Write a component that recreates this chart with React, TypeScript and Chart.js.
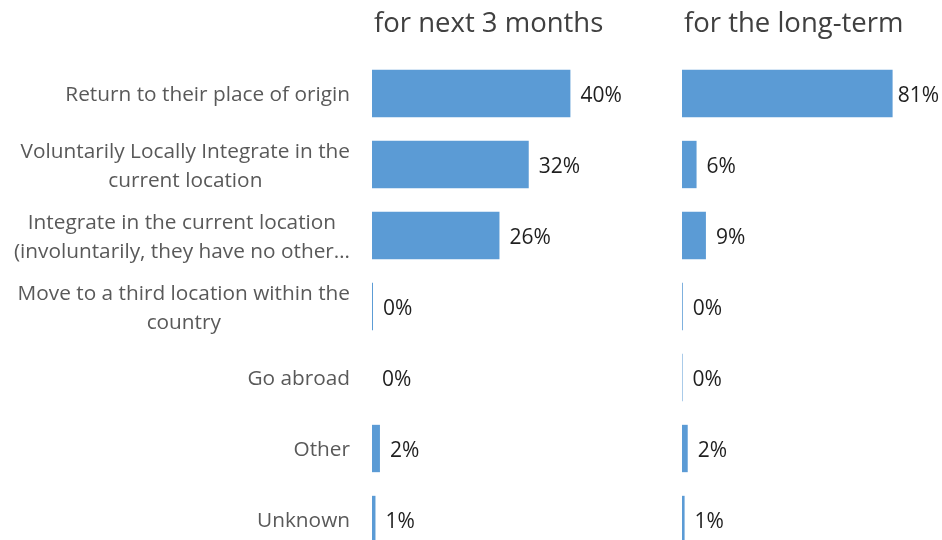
import React, { useEffect, useRef } from "react";
import { Chart, registerables } from "chart.js";

Chart.register(...registerables);

const categories: string[][] = [
  ["Return to their place of origin"],
  ["Voluntarily Locally Integrate in the", "current location"],
  ["Integrate in the current location", "(involuntarily, they have no other…"],
  ["Move to a third location within the", "country"],
  ["Go abroad"],
  ["Other"],
  ["Unknown"],
];

const next3Months = [40, 31.6, 25.7, 0.2, 0, 1.6, 0.7];
const longTerm = [81, 5.6, 9.2, 0.3, 0.2, 2.2, 1.0];
const titles = ["for next 3 months", "for the long-term"];
const axisMax = [50, 100];

const BAR = "#5B9BD5";
const FONT = "'Open Sans', 'Noto Sans', sans-serif";

const makePlugin = (title: string, withCats: boolean) => ({
  id: "custom-" + title,
  afterDatasetsDraw(chart: any) {
    const ctx = chart.ctx as CanvasRenderingContext2D;
    const area = chart.chartArea;
    ctx.save();
    // title
    ctx.font = `27.5px ${FONT}`;
    ctx.fillStyle = "#404040";
    ctx.textAlign = "left";
    ctx.textBaseline = "middle";
    ctx.fillText(title, area.left + 2, 24);
    // data labels
    const meta = chart.getDatasetMeta(0);
    const data = chart.data.datasets[0].data as number[];
    ctx.font = `21px ${FONT}`;
    ctx.fillStyle = "#1f1f1f";
    meta.data.forEach((bar: any, i: number) => {
      const txt = Math.round(data[i]) + "%";
      const w = ctx.measureText(txt).width;
      let x = bar.x + 10;
      if (x + w > chart.width - 3) x = chart.width - 3 - w;
      ctx.fillText(txt, x, bar.y + 3);
    });
    // category labels
    if (withCats) {
      const y = chart.scales.y;
      ctx.font = `20.8px ${FONT}`;
      ctx.fillStyle = "#595959";
      ctx.textAlign = "center";
      const lh = 28.5;
      const right = 350;
      categories.forEach((lines, i) => {
        const cy = y.getPixelForValue(i) + 2;
        const bw = Math.max(...lines.map((l) => ctx.measureText(l).width));
        const cx = right - bw / 2;
        lines.forEach((l, j) => {
          const ly = cy + (j - (lines.length - 1) / 2) * lh;
          ctx.fillText(l, cx, ly);
        });
      });
    }
    ctx.restore();
  },
});

function makeChart(
  canvas: HTMLCanvasElement,
  values: number[],
  max: number,
  title: string,
  padLeft: number,
  padRight: number,
  withCats: boolean
) {
  return new Chart(canvas, {
    type: "bar",
    data: {
      labels: categories.map((c) => c.join(" ")),
      datasets: [
        {
          data: values,
          backgroundColor: BAR,
          borderWidth: 0,
          barPercentage: 0.667,
          categoryPercentage: 1,
        },
      ],
    },
    options: {
      indexAxis: "y",
      responsive: false,
      animation: false,
      devicePixelRatio: 1,
      layout: { padding: { left: padLeft, right: padRight, top: 58, bottom: 5 } },
      plugins: { legend: { display: false }, tooltip: { enabled: false }, title: { display: false } },
      scales: {
        x: { display: false, min: 0, max },
        y: { display: false },
      },
    },
    plugins: [makePlugin(title, withCats)],
  });
}

export default function App() {
  const leftRef = useRef<HTMLCanvasElement>(null);
  const rightRef = useRef<HTMLCanvasElement>(null);

  useEffect(() => {
    const c1 = makeChart(leftRef.current!, next3Months, axisMax[0], titles[0], 372, 20, true);
    const c2 = makeChart(rightRef.current!, longTerm, axisMax[1], titles[1], 42, 0, false);
    return () => {
      c1.destroy();
      c2.destroy();
    };
  }, []);

  return (
    <div
      style={{
        position: "absolute",
        left: 0,
        top: 0,
        width: 942,
        height: 540,
        overflow: "hidden",
        background: "#fff",
      }}
    >
      <canvas ref={leftRef} width={640} height={560} style={{ position: "absolute", left: 0, top: 0 }} />
      <canvas ref={rightRef} width={302} height={560} style={{ position: "absolute", left: 640, top: 0 }} />
    </div>
  );
}
